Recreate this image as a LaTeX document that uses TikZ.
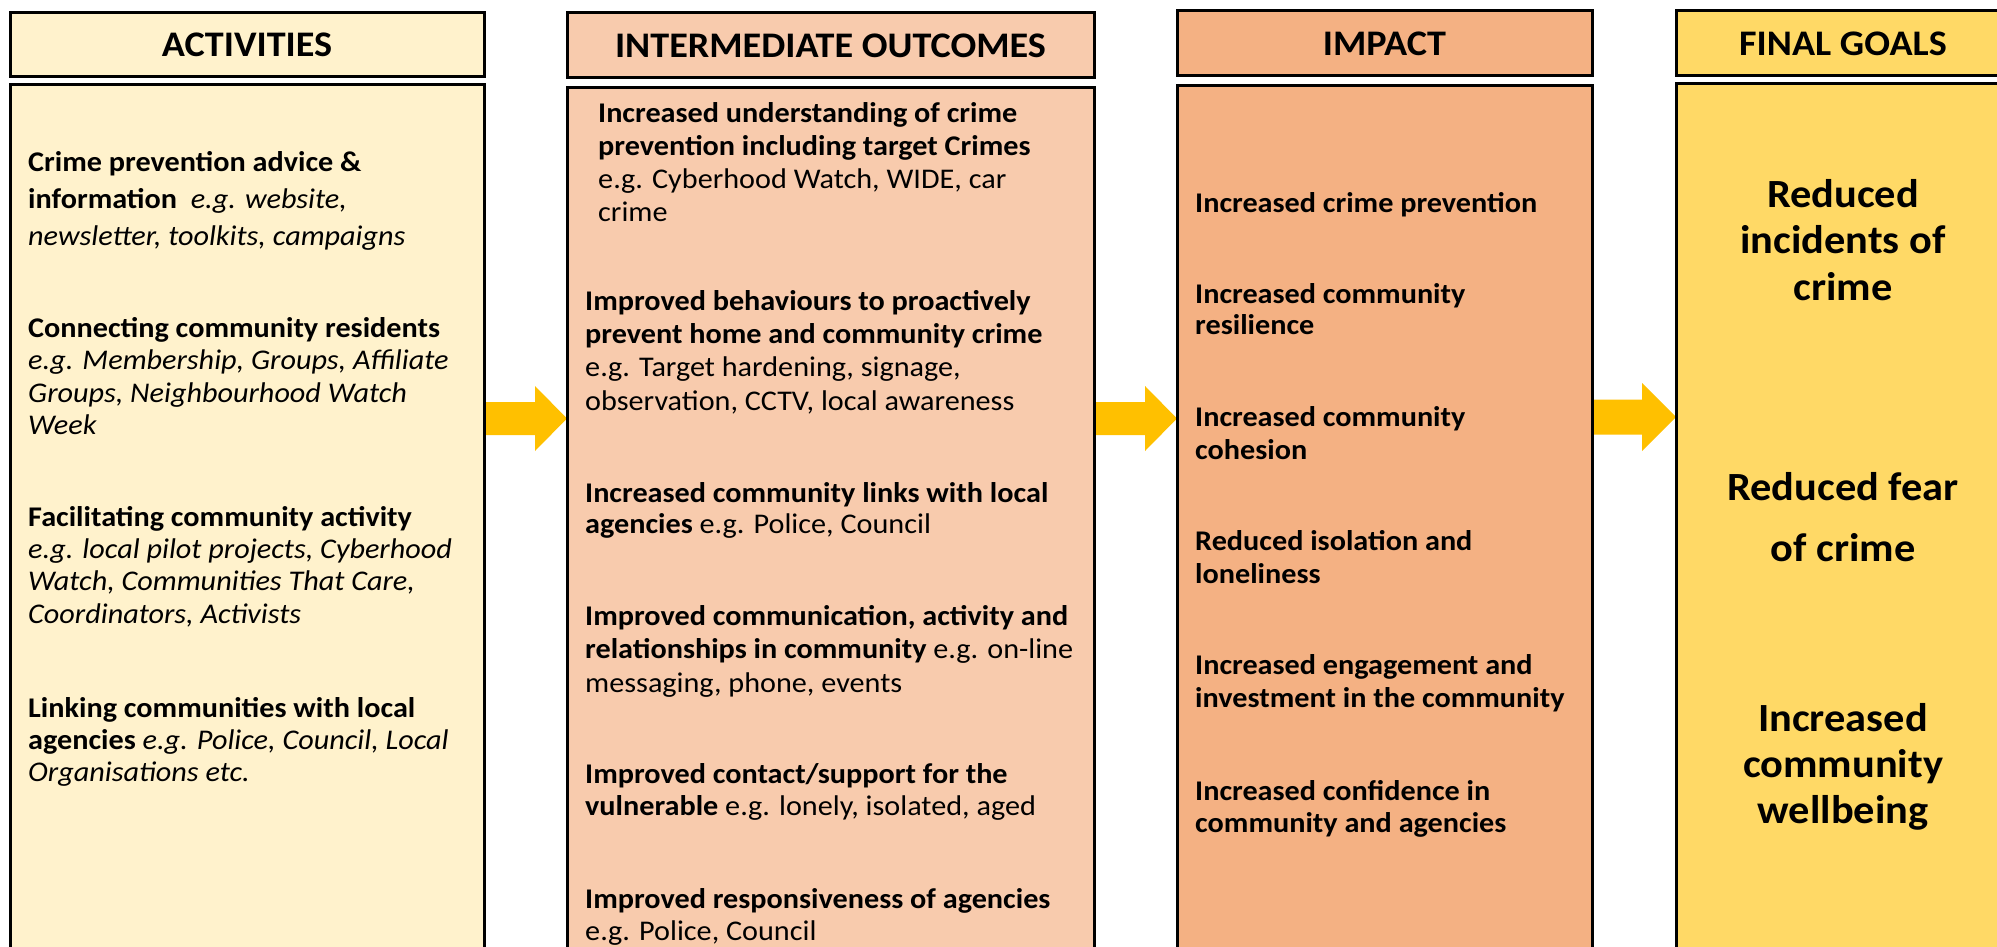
\documentclass[tikz,border=0pt]{standalone}
\usepackage{fontspec}
\setmainfont{Carlito}[FakeStretch=1.06]
\usetikzlibrary{calc,backgrounds}
\definecolor{colA}{HTML}{FFF2CC}
\definecolor{colB}{HTML}{F8CBAD}
\definecolor{colC}{HTML}{F4B183}
\definecolor{colD}{HTML}{FFD966}
\definecolor{arrowcol}{HTML}{FFC000}
\newcommand{\fl}{\rule{0pt}{35pt}}
\newcommand{\gl}{\rule{0pt}{45pt}}
\begin{document}
\begin{tikzpicture}[x=1pt,y=-1pt,
  box/.style={draw=black, line width=3pt, anchor=north west, inner sep=0pt, outer sep=0pt},
  hdr/.style={box, font=\fontsize{36}{40}\selectfont\bfseries, minimum height=65pt},
  txt/.style={anchor=north west, inner sep=0pt, align=left},
  goal/.style={anchor=north, inner sep=0pt, align=center},
  flowarrow/.style={fill=arrowcol}]
\path[use as bounding box, clip] (0,0) rectangle (1997,947);

% headers
\node[hdr, fill=colA, minimum width=474pt, minimum height=64pt] (h1) at (10,13) {ACTIVITIES};
\node[hdr, fill=colB, minimum width=527pt] (h2) at (567,13) {INTERMEDIATE OUTCOMES};
\node[hdr, fill=colC, minimum width=415pt] (h3) at (1177,11) {IMPACT};
\node[hdr, fill=colD, minimum width=334pt] (h4) at (1676,11) {FINAL GOALS};

% bodies
\node[box, fill=colA, minimum width=474pt, minimum height=920pt] (b1) at (10,85) {};
\node[box, fill=colB, minimum width=527pt, minimum height=920pt] (b2) at (567,88) {};
\node[box, fill=colC, minimum width=415pt, minimum height=920pt] (b3) at (1177,86) {};
\node[box, fill=colD, minimum width=334pt, minimum height=920pt] (b4) at (1676,84) {};

% arrows
\coordinate (ay) at (0,418.5);
\coordinate (az) at (0,417);
\begin{scope}[on background layer]
\fill[white] (0,0) rectangle (1997,947);
\fill[flowarrow] ($(b1.east|-ay)+(0,-16.5)$) -- ($(b2.west|-ay)+(-32,-16.5)$) -- ($(b2.west|-ay)+(-32,-32.5)$) -- (b2.west|-ay) -- ($(b2.west|-ay)+(-32,32.5)$) -- ($(b2.west|-ay)+(-32,16.5)$) -- ($(b1.east|-ay)+(0,16.5)$) -- cycle;
\fill[flowarrow] ($(b2.east|-ay)+(0,-16.5)$) -- ($(b3.west|-ay)+(-32,-16.5)$) -- ($(b3.west|-ay)+(-32,-32.5)$) -- (b3.west|-ay) -- ($(b3.west|-ay)+(-32,32.5)$) -- ($(b3.west|-ay)+(-32,16.5)$) -- ($(b2.east|-ay)+(0,16.5)$) -- cycle;
\fill[flowarrow] ($(b3.east|-az)+(0,-17.5)$) -- ($(b4.west|-az)+(-34,-17.5)$) -- ($(b4.west|-az)+(-34,-34)$) -- (b4.west|-az) -- ($(b4.west|-az)+(-34,34)$) -- ($(b4.west|-az)+(-34,17.5)$) -- ($(b3.east|-az)+(0,17.5)$) -- cycle;
\end{scope}

% column 1: activities
\node[txt, font=\fontsize{28.5}{37}\selectfont] (a1) at (28,136) {\fl\textbf{Crime prevention advice \&}\\\textbf{information}\ \ \textit{e.g. website,}\\\textit{newsletter, toolkits, campaigns}};
\node[txt, font=\fontsize{28.5}{32.5}\selectfont] (a2) at (28,302) {\fl\textbf{Connecting community residents}\\\textit{e.g. Membership, Groups, Affiliate}\\\textit{Groups, Neighbourhood Watch}\\\textit{Week}};
\node[txt, font=\fontsize{28.5}{32.3}\selectfont] (a3) at (28,491) {\fl\textbf{Facilitating community activity}\\\textit{e.g. local pilot projects, Cyberhood}\\\textit{Watch, Communities That Care,}\\\textit{Coordinators, Activists}};
\node[txt, font=\fontsize{28.5}{32}\selectfont] (a4) at (28,682) {\fl\textbf{Linking communities with local}\\\textbf{agencies} \textit{e.g. Police, Council, Local}\\\textit{Organisations etc.}};

% column 2: intermediate outcomes
\node[txt, font=\fontsize{28.5}{33}\selectfont] (c1) at (598,87) {\fl\textbf{Increased understanding of crime}\\\textbf{prevention including target Crimes}\\e.g. Cyberhood Watch, WIDE, car\\crime};
\node[txt, font=\fontsize{28.5}{33.3}\selectfont] (c2) at (585,275) {\fl\textbf{Improved behaviours to proactively}\\\textbf{prevent home and community crime}\\e.g. Target hardening, signage,\\observation, CCTV, local awareness};
\node[txt, font=\fontsize{28.5}{31}\selectfont] (c3) at (585,467) {\fl\textbf{Increased community links with local}\\\textbf{agencies} e.g. Police, Council};
\node[txt, font=\fontsize{28.5}{33.5}\selectfont] (c4) at (585,590) {\fl\textbf{Improved communication, activity and}\\\textbf{relationships in community} e.g. on-line\\messaging, phone, events};
\node[txt, font=\fontsize{28.5}{32}\selectfont] (c5) at (585,748) {\fl\textbf{Improved contact/support for the}\\\textbf{vulnerable} e.g. lonely, isolated, aged};
\node[txt, font=\fontsize{28.5}{32}\selectfont] (c6) at (585,873) {\fl\textbf{Improved responsiveness of agencies}\\e.g. Police, Council};

% column 3: impact
\node[txt, font=\fontsize{28.5}{33}\selectfont\bfseries] (d1) at (1195,177) {\fl Increased crime prevention};
\node[txt, font=\fontsize{28.5}{31}\selectfont\bfseries] (d2) at (1195,268) {\fl Increased community\\resilience};
\node[txt, font=\fontsize{28.5}{33}\selectfont\bfseries] (d3) at (1195,391) {\fl Increased community\\cohesion};
\node[txt, font=\fontsize{28.5}{33}\selectfont\bfseries] (d4) at (1195,515) {\fl Reduced isolation and\\loneliness};
\node[txt, font=\fontsize{28.5}{33}\selectfont\bfseries] (d5) at (1195,639) {\fl Increased engagement and\\investment in the community};
\node[txt, font=\fontsize{28.5}{32}\selectfont\bfseries] (d6) at (1195,765) {\fl Increased confidence in\\community and agencies};

% column 4: final goals
\node[goal, font=\fontsize{40}{46.5}\selectfont\bfseries] (g1) at (1843,162) {\gl Reduced\\incidents of\\crime};
\node[goal, font=\fontsize{40}{61}\selectfont\bfseries] (g2) at (1843,455) {\gl Reduced fear\\of crime};
\node[goal, font=\fontsize{40}{46}\selectfont\bfseries] (g3) at (1843,686) {\gl Increased\\community\\wellbeing};
\end{tikzpicture}
\end{document}
